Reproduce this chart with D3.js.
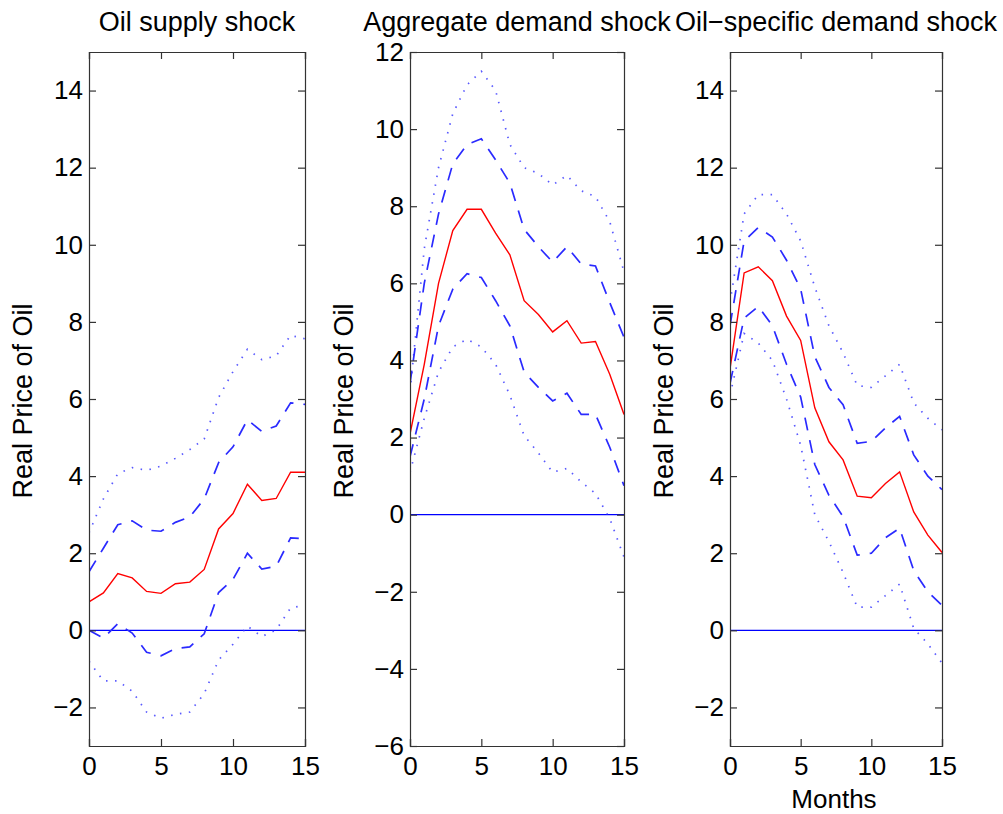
<!DOCTYPE html>
<html>
<head>
<meta charset="utf-8">
<script src="https://cdn.jsdelivr.net/npm/d3@7"></script>
<style>
  html, body { margin: 0; padding: 0; background: #fff; }
  svg { display: block; }
  text { font-family: "Liberation Sans", Arial, Helvetica, sans-serif; fill: #000; }
</style>
</head>
<body>
<svg id="chart" width="1003" height="814"></svg>
<script>
// ---- data ----
const months = [0,1,2,3,4,5,6,7,8,9,10,11,12,13,14,15];
const titles = ["Oil supply shock", "Aggregate demand shock", "Oil\u2212specific demand shock"];
const yLabel = "Real Price of Oil";
const xLabel = "Months";
const xTicks = [0, 5, 10, 15];
const yDomains = [[-3, 15], [-6, 12], [-3, 15]];
const yTicks = [
  [-2, 0, 2, 4, 6, 8, 10, 12, 14],
  [-6, -4, -2, 0, 2, 4, 6, 8, 10, 12],
  [-2, 0, 2, 4, 6, 8, 10, 12, 14]
];

// Oil supply shock
const supplyMedian = [0.74,0.97,1.47,1.36,1.01,0.96,1.21,1.25,1.58,2.63,3.03,3.79,3.37,3.42,4.10,4.10];
const supplyUp1    = [1.52,2.13,2.74,2.84,2.60,2.57,2.80,2.94,3.41,4.35,4.76,5.46,5.16,5.30,5.90,5.86];
const supplyLo1    = [0.00,-0.20,0.17,-0.07,-0.57,-0.66,-0.47,-0.43,-0.09,0.98,1.32,2.00,1.59,1.66,2.40,2.37];
const supplyUp2    = [2.53,3.41,4.06,4.22,4.15,4.26,4.46,4.69,4.96,6.04,6.71,7.29,7.02,7.12,7.65,7.56];
const supplyLo2    = [-0.80,-1.31,-1.31,-1.58,-2.12,-2.28,-2.18,-2.12,-1.64,-0.77,-0.36,0.11,-0.16,0.01,0.58,0.65];

// Aggregate demand shock
const aggMedian = [2.09,3.90,6.00,7.37,7.92,7.92,7.30,6.74,5.55,5.19,4.74,5.03,4.45,4.49,3.64,2.60];
const aggUp1    = [3.40,6.00,7.80,9.10,9.60,9.75,9.20,8.60,7.40,6.95,6.55,6.95,6.50,6.45,5.50,4.60];
const aggLo1    = [1.50,3.00,4.90,5.85,6.25,6.15,5.55,4.90,3.70,3.30,2.95,3.15,2.60,2.60,1.75,0.75];
const aggUp2    = [3.20,6.90,9.00,10.40,11.15,11.50,11.00,9.60,9.00,8.85,8.55,8.80,8.40,8.25,7.60,6.30];
const aggLo2    = [1.10,2.50,3.70,4.35,4.55,4.35,3.90,3.10,2.05,1.60,1.10,1.20,0.85,0.55,-0.10,-1.10];

// Oil-specific demand shock
const specMedian = [6.78,9.27,9.43,9.07,8.15,7.52,5.77,4.89,4.42,3.48,3.44,3.81,4.11,3.07,2.47,2.02];
const specUp1    = [7.90,10.10,10.45,10.20,9.60,8.85,7.10,6.30,5.85,4.85,4.90,5.25,5.55,4.55,4.00,3.65];
const specLo1    = [6.40,8.10,8.40,7.90,6.90,6.05,4.30,3.50,2.95,1.95,2.00,2.40,2.65,1.55,1.00,0.65];
const specUp2    = [8.50,10.80,11.30,11.30,10.80,10.10,8.90,7.90,7.20,6.35,6.30,6.60,6.90,5.90,5.50,5.20];
const specLo2    = [6.10,7.70,7.45,7.00,6.00,4.80,3.00,2.30,1.50,0.60,0.60,0.90,1.20,0.05,-0.35,-0.85];

const panelSeries = [
  {median: supplyMedian, up1: supplyUp1, lo1: supplyLo1, up2: supplyUp2, lo2: supplyLo2},
  {median: aggMedian, up1: aggUp1, lo1: aggLo1, up2: aggUp2, lo2: aggLo2},
  {median: specMedian, up1: specUp1, lo1: specLo1, up2: specUp2, lo2: specLo2}
];

// ---- layout ----
const panelX = [[89, 305], [410, 624], [730, 942]];
const plotTop = 52, plotBottom = 746;
const tickLen = 7;
const axisColor = "#333";

const svg = d3.select("#chart");
const fmt = v => (v < 0 ? "\u2212" + Math.abs(v) : String(v));

panelSeries.forEach((s, i) => {
  const [x0, x1] = panelX[i];
  const x = d3.scaleLinear().domain([0, 15]).range([x0, x1]);
  const y = d3.scaleLinear().domain(yDomains[i]).range([plotBottom, plotTop]);
  const g = svg.append("g");

  const clipId = "clip" + i;
  svg.append("clipPath").attr("id", clipId)
    .append("rect").attr("x", x0).attr("y", plotTop).attr("width", x1 - x0).attr("height", plotBottom - plotTop);

  const plot = g.append("g").attr("clip-path", `url(#${clipId})`);
  const line = d3.line().x((d, j) => x(months[j])).y(d => y(d));

  // zero line
  plot.append("line")
    .attr("x1", x(0)).attr("x2", x(15))
    .attr("y1", y(0)).attr("y2", y(0))
    .attr("stroke", "#0000ff").attr("stroke-width", 1.2);

  // dotted bands
  [s.up2, s.lo2].forEach(arr => {
    plot.append("path").datum(arr).attr("d", line)
      .attr("fill", "none").attr("stroke", "#3030ff").attr("stroke-width", 1.7)
      .attr("stroke-dasharray", "1.5,7.5").attr("opacity", 0.8);
  });
  // dashed bands
  [s.up1, s.lo1].forEach(arr => {
    plot.append("path").datum(arr).attr("d", line)
      .attr("fill", "none").attr("stroke", "#2a2aff").attr("stroke-width", 1.7)
      .attr("stroke-dasharray", "13,10");
  });
  // median
  plot.append("path").datum(s.median).attr("d", line)
    .attr("fill", "none").attr("stroke", "#ff0000").attr("stroke-width", 1.4);

  // axes (box with inward ticks)
  const axB = d3.axisBottom(x).tickValues(xTicks).tickSize(-tickLen).tickPadding(11).tickFormat(fmt);
  const axT = d3.axisTop(x).tickValues(xTicks).tickSize(-tickLen).tickFormat("");
  const axL = d3.axisLeft(y).tickValues(yTicks[i]).tickSize(-tickLen).tickPadding(6).tickFormat(fmt);
  const axR = d3.axisRight(y).tickValues(yTicks[i]).tickSize(-tickLen).tickFormat("");

  const gb = g.append("g").attr("transform", `translate(0,${plotBottom})`).call(axB);
  const gt = g.append("g").attr("transform", `translate(0,${plotTop})`).call(axT);
  const gl = g.append("g").attr("transform", `translate(${x0},0)`).call(axL);
  const gr = g.append("g").attr("transform", `translate(${x1},0)`).call(axR);

  [gb, gt, gl, gr].forEach(a => {
    a.select(".domain").attr("stroke", axisColor).attr("stroke-width", 1.2);
    a.selectAll(".tick line").attr("stroke", axisColor).attr("stroke-width", 1.2);
    a.selectAll(".tick text").attr("fill", "#000")
      .style("font-family", '"Liberation Sans", Arial, sans-serif')
      .style("font-size", "26px");
  });
  gb.selectAll(".tick text").attr("dy", "0.71em");

  // title
  g.append("text").attr("x", (x0 + x1) / 2).attr("y", 31)
    .attr("text-anchor", "middle").style("font-size", "27px").text(titles[i]);

  // y label
  const lx = x0 - 57;
  g.append("text").attr("transform", `translate(${lx},${(plotTop + plotBottom) / 2 + 2}) rotate(-90)`)
    .attr("text-anchor", "middle").style("font-size", "27px").text(yLabel);

  if (i === 2) {
    g.append("text").attr("x", 834).attr("y", 808)
      .attr("text-anchor", "middle").style("font-size", "26px").text(xLabel);
  }
});
</script>
</body>
</html>
